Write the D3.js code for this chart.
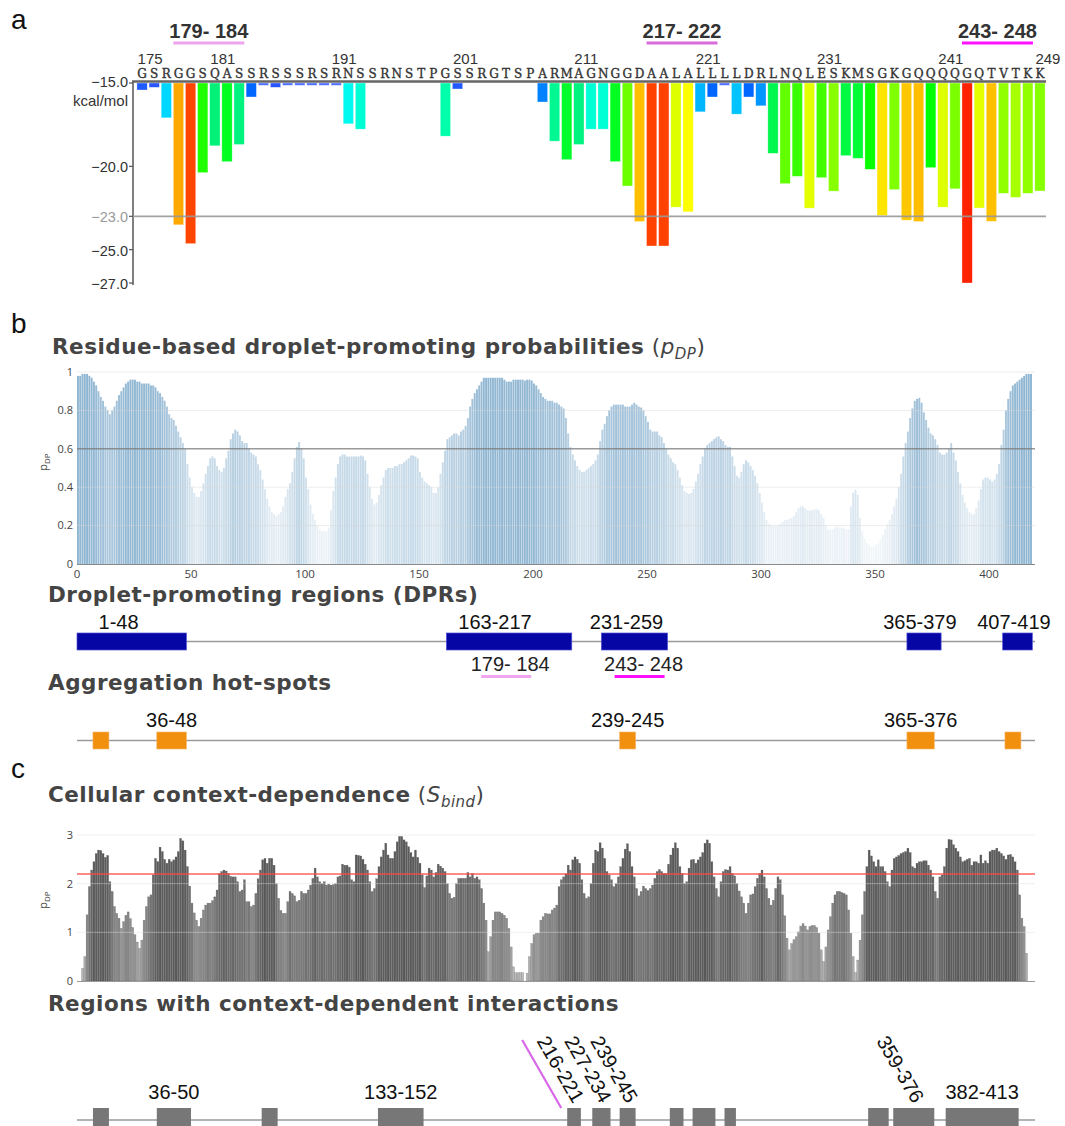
<!DOCTYPE html>
<html><head><meta charset="utf-8">
<script src="https://cdn.jsdelivr.net/npm/d3@7"></script>
<style>body{margin:0;background:#fff}svg{display:block}</style>
</head><body>
<svg id="chart" width="1065" height="1126"></svg>
<script>
// ---------------- DATA ----------------
// Panel a: residues 175-249
const sequenceA = "GSRGGSQASSRSSSRSRNSSRNSTPGSSRGTSPARMAGNGGDAALALLLLDRLNQLESKMSGKGQQQQGQTVTKK";
const firstResidueA = 175;
const energyA = [
  -15.42,-15.26,-17.09,-23.51,-24.64,-20.38,-18.77,-19.72,-18.69,-15.84,
  -15.14,-15.26,-15.14,-15.14,-15.14,-15.14,-15.14,-17.45,-17.77,null,
  null,null,null,null,null,-18.19,-15.36,null,null,null,
  null,null,null,-16.14,-18.49,-19.60,-18.69,-17.77,-17.77,-19.72,
  -21.18,-23.31,-24.78,-24.78,-22.45,-22.73,-16.73,-15.84,-15.14,-16.87,
  -15.84,-16.37,-19.22,-21.04,-20.60,-22.51,-20.68,-21.49,-19.36,-19.52,
  -20.18,-22.95,-21.40,-23.23,-23.31,-20.08,-22.45,-21.35,-27.00,-22.50,
  -23.30,-21.62,-21.86,-21.62,-21.48
];
const residueTicksA = [175,181,191,201,211,221,231,241,249];
const energyTicksA = [-15,-20,-23,-25,-27];
const thresholdA = -23;
const highlightLabelsA = ["179- 184","217- 222","243- 248"];
const highlightFromA = [178,217,243];
const highlightToA = [183,222,248];

// Panel b: residue-based droplet-promoting probabilities (residues 1..419)
const pDP = [
  0.98,0.98,0.99,0.99,0.99,0.98,0.97,0.95,0.93,0.90,
  0.87,0.85,0.82,0.80,0.78,0.80,0.82,0.85,0.88,0.90,
  0.92,0.94,0.95,0.96,0.96,0.96,0.95,0.95,0.94,0.94,
  0.94,0.94,0.93,0.93,0.92,0.90,0.89,0.87,0.85,0.82,
  0.78,0.76,0.75,0.72,0.69,0.66,0.63,0.60,0.52,0.45,
  0.40,0.37,0.35,0.35,0.38,0.42,0.47,0.51,0.55,0.56,
  0.55,0.51,0.49,0.48,0.50,0.55,0.59,0.65,0.68,0.70,
  0.69,0.67,0.64,0.63,0.63,0.60,0.58,0.57,0.56,0.52,
  0.49,0.44,0.39,0.34,0.30,0.27,0.26,0.25,0.26,0.27,
  0.30,0.35,0.39,0.42,0.48,0.55,0.61,0.635,0.60,0.55,
  0.45,0.39,0.31,0.26,0.23,0.20,0.18,0.17,0.17,0.17,
  0.19,0.28,0.38,0.45,0.52,0.56,0.57,0.57,0.56,0.56,
  0.56,0.56,0.56,0.56,0.565,0.56,0.54,0.47,0.40,0.34,
  0.31,0.32,0.36,0.41,0.45,0.49,0.50,0.50,0.50,0.51,
  0.51,0.52,0.52,0.53,0.54,0.55,0.565,0.565,0.56,0.55,
  0.48,0.45,0.43,0.42,0.41,0.40,0.37,0.37,0.40,0.47,
  0.53,0.59,0.65,0.66,0.67,0.68,0.68,0.67,0.69,0.70,
  0.72,0.76,0.82,0.86,0.89,0.91,0.93,0.95,0.97,0.97,
  0.97,0.97,0.97,0.97,0.97,0.97,0.97,0.96,0.95,0.95,
  0.95,0.96,0.96,0.96,0.96,0.96,0.955,0.96,0.96,0.955,
  0.94,0.93,0.91,0.89,0.87,0.86,0.85,0.85,0.85,0.84,
  0.84,0.83,0.82,0.81,0.76,0.68,0.61,0.57,0.54,0.51,
  0.49,0.48,0.48,0.49,0.50,0.51,0.52,0.54,0.57,0.64,
  0.70,0.73,0.77,0.80,0.82,0.83,0.83,0.83,0.83,0.83,
  0.82,0.82,0.82,0.83,0.84,0.83,0.82,0.815,0.80,0.77,
  0.74,0.70,0.69,0.69,0.69,0.67,0.66,0.63,0.60,0.57,
  0.55,0.53,0.52,0.49,0.45,0.41,0.38,0.37,0.365,0.37,
  0.39,0.43,0.47,0.52,0.56,0.60,0.62,0.63,0.64,0.65,
  0.66,0.665,0.65,0.64,0.62,0.61,0.61,0.56,0.51,0.46,
  0.45,0.48,0.52,0.54,0.53,0.51,0.49,0.46,0.42,0.37,
  0.32,0.27,0.23,0.21,0.20,0.20,0.20,0.20,0.21,0.22,
  0.23,0.23,0.235,0.24,0.25,0.27,0.29,0.30,0.30,0.29,
  0.28,0.28,0.28,0.285,0.285,0.28,0.26,0.24,0.20,0.18,
  0.18,0.18,0.19,0.195,0.19,0.19,0.185,0.18,0.18,0.30,
  0.37,0.385,0.36,0.24,0.17,0.13,0.11,0.10,0.09,0.09,
  0.10,0.11,0.13,0.15,0.18,0.21,0.23,0.26,0.30,0.34,
  0.40,0.47,0.56,0.63,0.69,0.76,0.81,0.85,0.86,0.865,
  0.84,0.79,0.75,0.71,0.68,0.67,0.65,0.62,0.58,0.57,
  0.57,0.58,0.60,0.63,0.58,0.54,0.48,0.42,0.36,0.32,
  0.29,0.27,0.26,0.26,0.29,0.33,0.39,0.44,0.45,0.45,
  0.44,0.43,0.44,0.47,0.52,0.62,0.70,0.80,0.86,0.90,
  0.93,0.94,0.95,0.96,0.97,0.98,0.99,0.99,0.99
];
const pDPThreshold = 0.6;
const xTicksB = [0,50,100,150,200,250,300,350,400];
const yTicksB = [0,0.2,0.4,0.6,0.8,1];

const dprStart = [1,163,231,365,407];
const dprEnd   = [48,217,259,379,419];
const dprNotes = ["179- 184","243- 248"];

const hotspotStart = [8,36,239,365,408];
const hotspotEnd   = [14,48,245,376,414];
const hotspotLabels = ["","36-48","239-245","365-376",""];

// Panel c: cellular context-dependence (residues 1..419)
const sBind = [
  0,0,0.26,0.5,1.36,1.94,2.28,2.45,2.62,2.69,
  2.68,2.62,2.54,2.58,2.04,1.84,1.53,1.39,1.29,1.08,
  1.22,1.35,1.42,1.28,1.1,0.95,0.8,0.67,0.84,1.25,
  1.53,1.73,1.77,2.18,2.52,2.45,2.75,2.66,2.5,2.42,
  2.5,2.45,2.49,2.55,2.66,2.93,2.88,2.69,2.35,1.95,
  1.6,1.4,1.25,1.12,1.29,1.46,1.56,1.6,1.6,1.65,
  1.73,1.87,2.21,2.25,2.28,2.26,2.21,2.15,2.14,2.14,
  2.04,1.84,1.87,2.08,1.63,1.63,1.53,1.56,1.8,2.1,
  2.28,2.49,2.52,2.42,2.52,2.52,2.38,2.0,1.7,1.45,
  1.39,1.39,1.63,1.84,1.8,1.75,1.63,1.66,1.84,1.8,
  1.8,1.87,1.97,2.11,2.32,2.14,2.04,2.0,2.04,1.97,
  1.99,1.97,1.98,2.0,2.14,2.16,2.4,2.38,2.38,2.34,
  2.08,2.04,2.59,2.58,2.57,2.5,2.4,2.28,2.04,1.84,
  1.9,2.1,2.35,2.55,2.69,2.83,2.59,2.52,2.52,2.66,
  2.86,2.97,2.97,2.9,2.86,2.76,2.64,2.55,2.69,2.54,
  2.42,2.18,1.92,2.16,2.32,2.28,2.14,2.23,2.4,2.36,
  2.32,2.25,2.0,1.8,1.7,1.72,2.0,2.11,2.11,2.11,
  2.11,2.23,2.14,2.21,2.11,2.14,2.08,1.9,1.6,1.25,
  0.6,0.91,1.25,1.42,1.42,1.42,1.39,1.35,1.29,1.08,
  0.7,0.29,0.17,0.17,0.17,0.17,0,0.16,0.5,0.77,
  0.95,0.98,0.98,1.25,1.32,1.39,1.38,1.38,1.46,1.5,
  1.56,1.94,2.08,2.14,2.2,2.38,2.28,2.49,2.55,2.5,
  2.42,2.08,1.8,1.7,1.73,2.0,2.42,2.69,2.66,2.84,
  2.73,2.52,2.25,2.18,2.08,1.94,2.0,2.14,2.35,2.52,
  2.71,2.82,2.66,2.35,2.14,1.9,1.75,1.84,1.95,1.9,
  1.86,1.9,1.97,2.11,2.25,2.29,2.25,2.21,2.21,2.4,
  2.59,2.73,2.84,2.73,2.35,2.21,2.0,2.04,2.32,2.49,
  2.5,2.42,2.49,2.55,2.64,2.83,2.9,2.83,2.45,2.14,
  1.9,1.73,2.04,2.25,2.29,2.28,2.35,2.21,2.16,2.0,
  1.85,1.73,1.6,1.39,1.6,1.77,1.79,1.94,2.11,2.21,
  2.28,2.14,1.9,1.7,1.56,1.66,1.9,2.14,2.08,1.77,
  1.34,0.88,0.64,0.77,0.85,0.91,1.01,1.13,1.18,1.13,
  1.05,1.12,1.14,1.14,1.1,0.98,0.64,0.4,0.7,1.05,
  1.32,1.6,1.77,1.84,1.84,1.82,1.8,1.77,1.46,0.98,
  0.5,0.17,0.43,0.84,1.36,1.84,2.35,2.69,2.57,2.45,
  2.35,2.49,2.35,2.35,2.25,2.04,1.94,2.28,2.52,2.55,
  2.58,2.62,2.64,2.66,2.73,2.64,2.35,2.32,2.42,2.45,
  2.45,2.47,2.47,2.38,2.28,2.14,1.84,1.7,2.14,2.18,
  2.35,2.73,2.91,2.9,2.8,2.73,2.66,2.55,2.45,2.47,
  2.5,2.52,2.38,2.45,2.45,2.42,2.59,2.42,2.47,2.42,
  2.66,2.69,2.69,2.73,2.66,2.62,2.57,2.5,2.59,2.6,
  2.55,2.45,2.28,1.77,1.29,1.12,0.57,0,0
];
const sBindThreshold = 2.2;
const yTicksC = [0,1,2,3];

const contextStart = [8,36,82,133,216,227,239,261,271,285,348,359,382];
const contextEnd   = [14,50,88,152,221,234,245,266,280,289,356,376,413];
const contextLabels = ["","36-50","","133-152","216-221","227-234","239-245","","","","","359-376","382-413"];

// ---------------- DRAWING ----------------
const svg = d3.select("#chart");
const SANS = "'Liberation Sans', Arial, Helvetica, sans-serif";
const TITLE = "'DejaVu Sans', Verdana, sans-serif";
const TICK = "'Open Sans', Verdana, sans-serif";
const TXT = "#444";

function panelLetter(t, x, y){
  svg.append("text").attr("x",x).attr("y",y).text(t)
    .style("font-family",SANS).style("font-size","28px").attr("fill","#111");
}
panelLetter("a",11,29); panelLetter("b",11,333); panelLetter("c",11,778);

function sectionTitle(x, y, bold, italicMain, italicSub){
  const t = svg.append("text").attr("x",x).attr("y",y)
    .style("font-family",TITLE).style("font-size","21.5px").style("letter-spacing","0.5px").attr("fill",TXT);
  t.append("tspan").text(bold).style("font-weight","bold");
  if(italicMain){
    t.append("tspan").text(" (").style("font-weight","normal");
    t.append("tspan").text(italicMain).style("font-style","italic");
    t.append("tspan").text(italicSub).style("font-style","italic").style("font-size","15px").attr("dy",5);
    t.append("tspan").text(")").attr("dy",-5);
  }
}

// ===== Panel a =====
const residuesA = Array.from(sequenceA, (_, i) => firstResidueA + i);
const xA = d3.scaleBand().domain(residuesA).range([136,1046]).paddingInner(0.15).paddingOuter(0.075);
const yA = d3.scaleLinear().domain([-15,-27]).range([83,283]);
const colorA = d3.scaleLinear()
  .domain([-15.0,-15.25,-15.85,-16.4,-17.1,-17.5,-18.2,-18.75,-19.7,-20.1,-20.7,-21.5,-21.9,-22.45,-22.75,-23.0,-23.3,-23.5,-24.65,-27])
  .range(["#8090ff","#2a55ff","#0066ff","#0099ff","#00d8ff","#00ffee","#00ffaa","#00f07a","#00ff22","#00ff00","#44ff00","#88ff00","#aaff00","#ddff00","#ffff00","#ffdd00","#ffc000","#ffaa00","#ff4400","#ff2200"])
  .interpolate(d3.interpolateRgb).clamp(true);
const bw = xA.bandwidth();
const gA = svg.append("g");
const dataA = residuesA.map((r,i)=>({r, v: energyA[i], aa: sequenceA[i]}));

gA.selectAll("rect.bar").data(dataA.filter(d=>d.v!==null)).join("rect")
  .attr("x",d=>xA(d.r)).attr("y",yA(-15))
  .attr("width",bw).attr("height",d=>Math.max(1.5,yA(d.v)-yA(-15)))
  .attr("fill",d=>colorA(d.v))
  .attr("stroke","rgba(255,255,255,0.55)").attr("stroke-width",0.6);

// axis
gA.append("line").attr("x1",133).attr("x2",133).attr("y1",81).attr("y2",285).attr("stroke","#555").attr("stroke-width",1.5);
gA.append("line").attr("x1",132).attr("x2",1046).attr("y1",81.5).attr("y2",81.5).attr("stroke","#666").attr("stroke-width",2.5);
gA.append("line").attr("x1",133).attr("x2",1046).attr("y1",yA(thresholdA)).attr("y2",yA(thresholdA)).attr("stroke","#999").attr("stroke-width",1.6).attr("opacity",0.9);
energyTicksA.forEach(v=>{
  gA.append("line").attr("x1",129).attr("x2",133).attr("y1",yA(v)).attr("y2",yA(v)).attr("stroke","#555").attr("stroke-width",1.2);
  gA.append("text").attr("x",128).attr("y",yA(v) - (v===-15?1.5:-1)).attr("dy","0.35em").attr("text-anchor","end")
    .text(d3.format(".1f")(v)).style("font-family",SANS).style("font-size","14.5px")
    .attr("fill", v===thresholdA ? "#9a9a9a" : "#333");
});
gA.append("text").attr("x",128).attr("y",106).attr("text-anchor","end").text("kcal/mol")
  .style("font-family",SANS).style("font-size","15px").attr("fill","#333");

// residue numbers & sequence letters
residueTicksA.forEach(n=>{
  gA.append("text").attr("x",xA(n)+bw/2-4.5).attr("y",64).text(n)
    .style("font-family",SANS).style("font-size","15px").attr("fill","#333");
});
gA.selectAll("text.aa").data(dataA).join("text")
  .attr("x",d=>xA(d.r)+bw/2).attr("y",78).attr("text-anchor","middle").text(d=>d.aa)
  .style("font-family","'DejaVu Serif', 'Liberation Serif', serif").style("font-size","12px").attr("stroke","#333").attr("stroke-width",0.35).attr("fill","#333");

// highlighted segments
const hlColors = ["#eea4ec","#d96ad9","#ff10ff"];
highlightLabelsA.forEach((lab,i)=>{
  const x1 = xA(highlightFromA[i]), x2 = xA(highlightToA[i]) + bw;
  gA.append("line").attr("x1",x1).attr("x2",x2).attr("y1",43).attr("y2",43).attr("stroke",hlColors[i]).attr("stroke-width",3);
  gA.append("text").attr("x",(x1+x2)/2).attr("y",37.5).attr("text-anchor","middle").text(lab)
    .style("font-family",SANS).style("font-size","20px").style("font-weight","bold").attr("fill","#333");
});

// ===== Panel b =====
const xB = d3.scaleLinear().domain([0,420]).range([77,1034.6]);
const yB = d3.scaleLinear().domain([0,1]).range([564,372]);
const stepB = xB(1)-xB(0);
const colB = v => d3.interpolateRgb("#f6f9fb","#8db4d1")(Math.pow(Math.max(0,Math.min(1,v)),1.35));

sectionTitle(52,354,"Residue-based droplet-promoting probabilities","p","DP");
const gB = svg.append("g");
gB.selectAll("rect").data(pDP.map((v,i)=>({r:i+1,v}))).join("rect")
  .attr("x",d=>xB(d.r-1)).attr("width",stepB-0.35)
  .attr("y",d=>yB(d.v)).attr("height",d=>yB(0)-yB(d.v))
  .attr("fill",d=>colB(d.v));
yTicksB.forEach(v=>{
  if(v>0){
    gB.append("line").attr("x1",77).attr("x2",1035).attr("y1",yB(v)).attr("y2",yB(v))
      .attr("stroke", v===pDPThreshold ? "rgba(120,120,120,0.75)" : "rgba(215,215,215,0.45)").attr("stroke-width", v===pDPThreshold?1.4:1);
  }
  gB.append("text").attr("x",73).attr("y",yB(v)).attr("dy","0.35em").attr("text-anchor","end")
    .text(v).style("font-family",TICK).style("font-size","11px").attr("fill",TXT);
});
gB.append("line").attr("x1",77).attr("x2",1035).attr("y1",564.5).attr("y2",564.5).attr("stroke","#8a8a8a").attr("stroke-width",1.2);
xTicksB.forEach(v=>{
  gB.append("text").attr("x",xB(v)).attr("y",578).attr("text-anchor","middle").text(v)
    .style("font-family",TICK).style("font-size","11.5px").attr("fill",TXT);
});
function yLabel(g, x, y){
  const t = g.append("text").attr("transform",`translate(${x},${y}) rotate(-90)`).attr("text-anchor","middle")
    .style("font-family",TICK).style("font-size","11px").attr("fill",TXT);
  t.append("tspan").text("p");
  t.append("tspan").text("DP").style("font-size","8px").attr("dy",3);
}
yLabel(gB,47,462);

// DPRs
sectionTitle(48,602,"Droplet-promoting regions (DPRs)");
const gD = svg.append("g");
gD.append("line").attr("x1",77).attr("x2",1035).attr("y1",641.5).attr("y2",641.5).attr("stroke","#9a9a9a").attr("stroke-width",1.5);
dprStart.forEach((s,i)=>{
  const x1 = xB(s-1), x2 = xB(dprEnd[i]);
  gD.append("rect").attr("x",x1).attr("y",633).attr("width",x2-x1).attr("height",17)
    .attr("fill","#0606a4").attr("stroke","#5252d6").attr("stroke-width",0.7);
  let cx = (x1+x2)/2 - Math.min(14,(x2-x1)*0.12); cx = Math.min(cx, 1022);
  gD.append("text").attr("x",cx).attr("y",629).attr("text-anchor","middle").text(`${s}-${dprEnd[i]}`)
    .style("font-family",SANS).style("font-size","20px").attr("fill","#111");
});
// annotations under DPR boxes (label centre residue positions)
const dprNoteAt = [190,248.5];
dprNotes.forEach((lab,i)=>{
  const cx = xB(dprNoteAt[i]);
  gD.append("text").attr("x",cx).attr("y",671).attr("text-anchor","middle").text(lab)
    .style("font-family",SANS).style("font-size","20px").attr("fill","#222");
  gD.append("line").attr("x1",cx-29).attr("x2",cx+21).attr("y1",676.5).attr("y2",676.5)
    .attr("stroke", i===0 ? "#f0a6ee" : "#ff10ff").attr("stroke-width",3);
});

// Hot-spots
sectionTitle(48,690,"Aggregation hot-spots");
const gH = svg.append("g");
gH.append("line").attr("x1",77).attr("x2",1035).attr("y1",740.5).attr("y2",740.5).attr("stroke","#9a9a9a").attr("stroke-width",1.5);
hotspotStart.forEach((s,i)=>{
  const x1 = xB(s-1), x2 = xB(hotspotEnd[i]);
  gH.append("rect").attr("x",x1).attr("y",732).attr("width",x2-x1).attr("height",17)
    .attr("fill","#f0900e").attr("stroke","#f7b464").attr("stroke-width",0.6);
  if(hotspotLabels[i]){
    gH.append("text").attr("x",(x1+x2)/2).attr("y",727).attr("text-anchor","middle").text(hotspotLabels[i])
      .style("font-family",SANS).style("font-size","20px").attr("fill","#111");
  }
});

// ===== Panel c =====
sectionTitle(48,802,"Cellular context-dependence","S","bind");
const yC = d3.scaleLinear().domain([0,3]).range([981,835]);
const gC = svg.append("g");
const colC = v => d3.interpolateRgb("#c2c2c2","#5c5c5c")(Math.max(0,Math.min(1,v/2.5)));
gC.selectAll("rect").data(sBind.map((v,i)=>({r:i+1,v})).filter(d=>d.v>0)).join("rect")
  .attr("x",d=>xB(d.r-1)).attr("width",stepB-0.3)
  .attr("y",d=>yC(d.v)).attr("height",d=>yC(0)-yC(d.v))
  .attr("fill",d=>colC(d.v)).attr("stroke","rgba(50,50,50,0.45)").attr("stroke-width",0.4);
yTicksC.forEach(v=>{
  if(v>0) gC.append("line").attr("x1",77).attr("x2",1035).attr("y1",yC(v)).attr("y2",yC(v))
    .attr("stroke","rgba(220,220,220,0.45)").attr("stroke-width",1);
  gC.append("text").attr("x",73).attr("y",yC(v)).attr("dy","0.35em").attr("text-anchor","end")
    .text(v).style("font-family",TICK).style("font-size","11px").attr("fill",TXT);
});
gC.append("line").attr("x1",77).attr("x2",1035).attr("y1",yC(sBindThreshold)).attr("y2",yC(sBindThreshold))
  .attr("stroke","rgba(255,70,70,0.85)").attr("stroke-width",1.5);
gC.append("line").attr("x1",77).attr("x2",1035).attr("y1",981.5).attr("y2",981.5).attr("stroke","#999").attr("stroke-width",1.2);
yLabel(gC,47,900);

// Context-dependent regions
sectionTitle(48,1011,"Regions with context-dependent interactions");
const gR = svg.append("g");
gR.append("line").attr("x1",77).attr("x2",1035).attr("y1",1120).attr("y2",1120).attr("stroke","#9a9a9a").attr("stroke-width",1.5);
const rotatedLabels = ["216-221","227-234","239-245","359-376"];
contextStart.forEach((s,i)=>{
  const x1 = xB(s-1), x2 = xB(contextEnd[i]);
  gR.append("rect").attr("x",x1).attr("y",1108).attr("width",x2-x1).attr("height",24).attr("fill","#777");
  const lab = contextLabels[i];
  if(!lab) return;
  if(rotatedLabels.includes(lab)){
    const ax = (x1+x2)/2 + 5, ay = 1101;
    gR.append("text").attr("transform",`translate(${ax},${ay}) rotate(60)`).attr("text-anchor","end").attr("dy","0.35em")
      .text(lab).style("font-family",SANS).style("font-size","20px").attr("fill","#111");
    if(i===contextLabels.indexOf("216-221")){
      gR.append("line").attr("x1",x1-6).attr("y1",1108).attr("x2",x1-6-39).attr("y2",1040)
        .attr("stroke","#d866e8").attr("stroke-width",2.2);
    }
  } else {
    gR.append("text").attr("x",(x1+x2)/2).attr("y",1099).attr("text-anchor","middle").text(lab)
      .style("font-family",SANS).style("font-size","20px").attr("fill","#111");
  }
});
</script>
</body></html>
